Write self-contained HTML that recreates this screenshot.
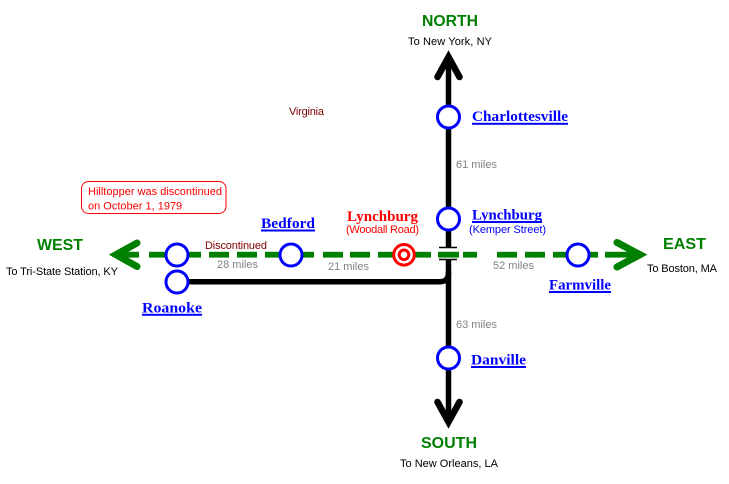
<!DOCTYPE html>
<html><head><meta charset="utf-8"><style>
html,body{margin:0;padding:0;background:#fff;}
svg{display:block;}
.s{font-family:"Liberation Sans",Arial,sans-serif;font-size:11px;}
.h{font-family:"Liberation Sans",Arial,sans-serif;font-size:16px;font-weight:bold;fill:#008000;}
.t{font-family:"Liberation Serif","Times New Roman",serif;font-size:15px;font-weight:bold;}
</style></head><body>
<svg width="729" height="484" viewBox="0 0 729 484" xmlns="http://www.w3.org/2000/svg">
<rect width="729" height="484" fill="#fff"/>
<!-- black vertical line -->
<line x1="448.5" y1="58" x2="448.5" y2="247.5" stroke="#000" stroke-width="5.5"/>
<line x1="448.5" y1="259" x2="448.5" y2="422" stroke="#000" stroke-width="5.5"/>
<!-- north arrowhead -->
<polyline points="437.5,77 448.5,57 459.5,77" fill="none" stroke="#000" stroke-width="6.5" stroke-linecap="round" stroke-linejoin="miter"/>
<!-- south arrowhead -->
<polyline points="437.5,402 448.5,422 459.5,402" fill="none" stroke="#000" stroke-width="6.5" stroke-linecap="round" stroke-linejoin="miter"/>
<!-- crossing ticks -->
<line x1="439" y1="247.5" x2="457" y2="247.5" stroke="#000" stroke-width="1.6"/>
<line x1="439" y1="259.5" x2="457" y2="259.5" stroke="#000" stroke-width="1.6"/>
<!-- black Roanoke line -->
<path d="M177,281.8 H440 Q448.5,281.8 448.5,272" fill="none" stroke="#000" stroke-width="5.5"/>
<!-- green dashes -->
<g fill="#008000">
<rect x="149" y="251.8" width="20" height="5.8"/>
<rect x="181" y="251.8" width="20" height="5.8"/>
<rect x="209" y="251.8" width="20" height="5.8"/>
<rect x="237" y="251.8" width="20" height="5.8"/>
<rect x="265" y="251.8" width="20" height="5.8"/>
<rect x="294" y="251.8" width="20" height="5.8"/>
<rect x="323" y="251.8" width="20" height="5.8"/>
<rect x="350" y="251.8" width="20" height="5.8"/>
<rect x="378" y="251.8" width="20" height="5.8"/>
<rect x="410" y="251.8" width="21" height="5.8"/>
<rect x="438" y="251.8" width="21" height="5.8"/>
<rect x="463" y="251.8" width="14" height="5.8"/>
<rect x="497" y="251.8" width="20" height="5.8"/>
<rect x="525" y="251.8" width="20" height="5.8"/>
<rect x="553" y="251.8" width="20" height="5.8"/>
<rect x="581" y="251.8" width="17" height="5.8"/>
<rect x="605" y="251.8" width="34" height="5.8"/>
<rect x="117" y="251.8" width="22" height="5.8"/>
</g>
<!-- green arrowheads -->
<polyline points="137,243 116,254.7 137,266.5" fill="none" stroke="#008000" stroke-width="7" stroke-linecap="round" stroke-linejoin="miter"/>
<polyline points="617,242.5 640,254.7 617,267" fill="none" stroke="#008000" stroke-width="7" stroke-linecap="round" stroke-linejoin="miter"/>
<!-- blue circles -->
<g fill="#fff" stroke="#0000ff" stroke-width="3">
<circle cx="448.5" cy="117" r="11"/>
<circle cx="448.5" cy="219" r="11"/>
<circle cx="448.5" cy="358" r="11"/>
<circle cx="177" cy="255" r="11"/>
<circle cx="177" cy="282" r="11"/>
<circle cx="291" cy="255" r="11"/>
<circle cx="578" cy="255" r="11"/>
</g>
<!-- red target -->
<circle cx="404" cy="254.8" r="10.3" fill="#fff" stroke="#ff0000" stroke-width="3"/>
<circle cx="404" cy="254.8" r="4.8" fill="#fff" stroke="#ff0000" stroke-width="3"/>
<!-- Hilltopper box -->
<rect x="81.5" y="181.5" width="144.5" height="32" rx="7" ry="7" fill="#fff" stroke="#ff0000" stroke-width="1"/>
<text class="s" x="88" y="195" fill="#ff0000" textLength="134" lengthAdjust="spacing">Hilltopper was discontinued</text>
<text class="s" x="88" y="209.5" fill="#ff0000">on October 1, 1979</text>
<!-- headings -->
<text class="h" x="422" y="26" textLength="56" lengthAdjust="spacingAndGlyphs">NORTH</text>
<text class="h" x="37" y="250" textLength="46" lengthAdjust="spacingAndGlyphs">WEST</text>
<text class="h" x="663" y="249" textLength="43" lengthAdjust="spacingAndGlyphs">EAST</text>
<text class="h" x="421" y="448" textLength="56" lengthAdjust="spacingAndGlyphs">SOUTH</text>
<!-- direction subtitles -->
<text class="s" x="408" y="45" fill="#000" textLength="84" lengthAdjust="spacing">To New York, NY</text>
<text class="s" x="6" y="275" fill="#000" textLength="112" lengthAdjust="spacing">To Tri-State Station, KY</text>
<text class="s" x="647" y="272" fill="#000" textLength="70" lengthAdjust="spacing">To Boston, MA</text>
<text class="s" x="400" y="467" fill="#000" textLength="98" lengthAdjust="spacing">To New Orleans, LA</text>
<!-- misc small -->
<text class="s" x="289" y="115" fill="#800000" textLength="35" lengthAdjust="spacing">Virginia</text>
<text class="s" x="205" y="249" fill="#800000" textLength="62" lengthAdjust="spacing">Discontinued</text>
<text class="s" x="456" y="168" fill="#808080">61 miles</text>
<text class="s" x="456" y="328" fill="#808080">63 miles</text>
<text class="s" x="217" y="268" fill="#808080">28 miles</text>
<text class="s" x="328" y="270" fill="#808080">21 miles</text>
<text class="s" x="493" y="269" fill="#808080">52 miles</text>
<text class="s" x="346" y="233" fill="#ff0000" textLength="73" lengthAdjust="spacing">(Woodall Road)</text>
<text class="s" x="469" y="233" fill="#0000ff" textLength="77" lengthAdjust="spacing">(Kemper Street)</text>
<!-- station names -->
<text class="t" x="472" y="121" fill="#0000ff" textLength="96" lengthAdjust="spacingAndGlyphs">Charlottesville</text>
<rect x="472" y="122.8" width="96" height="2" fill="#0000ff"/>
<text class="t" x="261" y="228" fill="#0000ff" textLength="54" lengthAdjust="spacingAndGlyphs">Bedford</text>
<rect x="261" y="229.5" width="54" height="2" fill="#0000ff"/>
<text class="t" x="347" y="221" fill="#ff0000" textLength="71" lengthAdjust="spacingAndGlyphs">Lynchburg</text>
<text class="t" x="472" y="219.5" fill="#0000ff" textLength="70" lengthAdjust="spacingAndGlyphs">Lynchburg</text>
<rect x="472" y="221" width="70" height="2" fill="#0000ff"/>
<text class="t" x="142" y="312.5" fill="#0000ff" textLength="60" lengthAdjust="spacingAndGlyphs">Roanoke</text>
<rect x="142" y="313.8" width="60" height="2" fill="#0000ff"/>
<text class="t" x="549" y="289.5" fill="#0000ff" textLength="62" lengthAdjust="spacingAndGlyphs">Farmville</text>
<rect x="549" y="291" width="62" height="2" fill="#0000ff"/>
<text class="t" x="471" y="364.5" fill="#0000ff" textLength="55" lengthAdjust="spacingAndGlyphs">Danville</text>
<rect x="471" y="366" width="55" height="2" fill="#0000ff"/>
</svg>
</body></html>
